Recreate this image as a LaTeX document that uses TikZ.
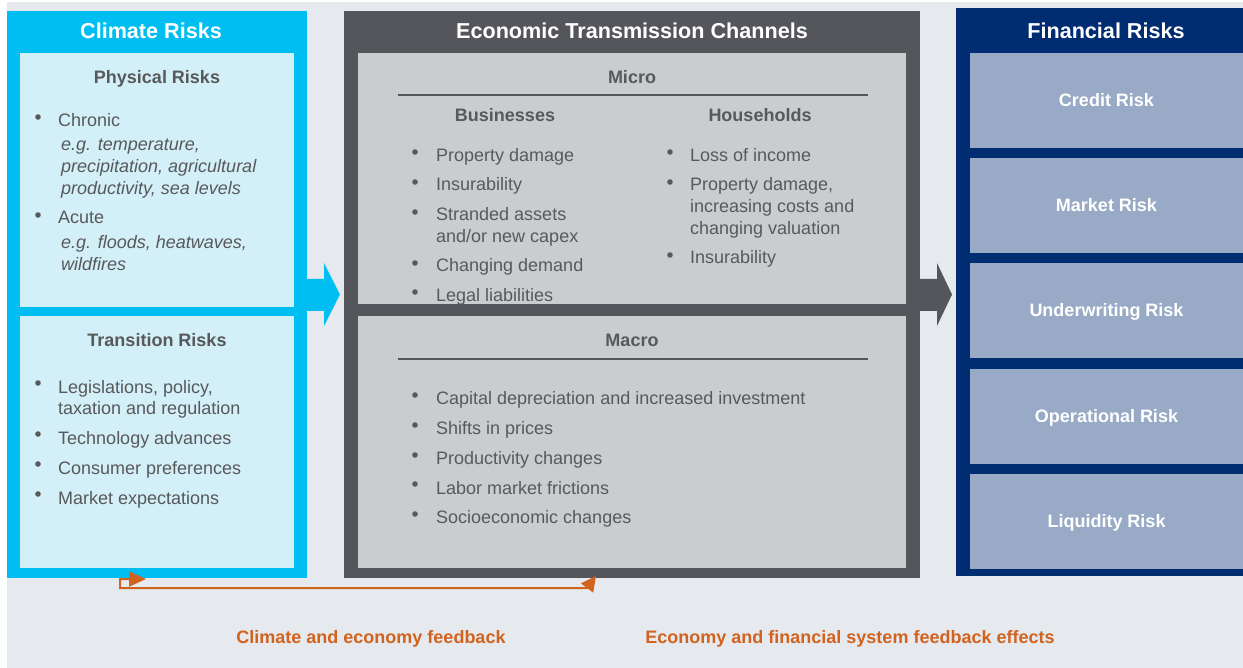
\documentclass[tikz,border=0pt]{standalone}
\usepackage{fontspec}
\setmainfont{Liberation Sans}
\usetikzlibrary{arrows.meta}
\definecolor{bgC}{HTML}{E6E9EE}
\definecolor{cyanC}{HTML}{00BEF2}
\definecolor{cyanL}{HTML}{D3EFF8}
\definecolor{grayD}{HTML}{54565B}
\definecolor{grayL}{HTML}{CBCCCE}
\definecolor{navyC}{HTML}{002D72}
\definecolor{navyL}{HTML}{99AAC6}
\definecolor{txt}{HTML}{58595B}
\definecolor{orangeC}{HTML}{D1631E}
\begin{document}
\begin{tikzpicture}[x=1pt,y=-1pt,
  box/.style={inner sep=0,outer sep=0,anchor=north west},
  title/.style={font=\fontsize{21.6}{25}\selectfont\bfseries, text=white, anchor=base, inner sep=0},
  head/.style={font=\fontsize{18}{22}\selectfont\bfseries, text=txt, anchor=base, inner sep=0},
  body/.style={font=\fontsize{18}{22}\selectfont, text=txt, anchor=base west, inner sep=0},
  ital/.style={font=\fontsize{18}{22}\selectfont\itshape, text=txt, anchor=base west, inner sep=0},
  dot/.style={circle, fill=txt, inner sep=0, minimum size=5.6},
  finbox/.style={fill=navyL, inner sep=0, outer sep=0, minimum width=273, minimum height=95,
    font=\fontsize{18}{22}\selectfont\bfseries, text=white, text height=12.9, text depth=0},
  fb/.style={font=\fontsize{18}{22}\selectfont\bfseries, text=orangeC, anchor=base, inner sep=0},
  rule/.style={draw=grayD, line width=2}]
\useasboundingbox (0,0) rectangle (1243,668);
\fill[white] (0,0) rectangle (1243,668);
\fill[bgC] (7,2) rectangle (1243,668);

% ---------- Climate Risks ----------
\node[box, fill=cyanC, minimum width=300, minimum height=567] (climate) at (7,11) {};
\node[box, fill=cyanL, minimum width=274, minimum height=254] (phys) at (20,53) {};
\node[box, fill=cyanL, minimum width=274, minimum height=252] (trans) at (20,316) {};
\node[title] (climateT) at (151,38.5) {Climate Risks};
\node[head] (physT) at (157,84) {Physical Risks};
\node[dot] (pb1) at (38,117) {};
\node[body] (pt1) at (58,127) {Chronic};
\node[ital] (pt2) at (61,151) {e.g. temperature,};
\node[ital] (pt3) at (61,173) {precipitation, agricultural};
\node[ital] (pt4) at (61,195) {productivity, sea levels};
\node[dot] (pb2) at (38,215) {};
\node[body] (pt5) at (58,224) {Acute};
\node[ital] (pt6) at (61,249) {e.g. floods, heatwaves,};
\node[ital] (pt7) at (61,271) {wildfires};

\node[head] (transT) at (157,347) {Transition Risks};
\node[dot] (tb1) at (38,383) {};
\node[body] (tt1) at (58,393) {Legislations, policy,};
\node[body] (tt2) at (58,414) {taxation and regulation};
\node[dot] (tb2) at (38,434) {};
\node[body] (tt3) at (58,444) {Technology advances};
\node[dot] (tb3) at (38,464) {};
\node[body] (tt4) at (58,474) {Consumer preferences};
\node[dot] (tb4) at (38,494) {};
\node[body] (tt5) at (58,504) {Market expectations};

% ---------- Economic Transmission Channels ----------
\node[box, fill=grayD, minimum width=576, minimum height=567] (econ) at (344,11) {};
\node[box, fill=grayL, minimum width=548, minimum height=251] (micro) at (358,53) {};
\node[box, fill=grayL, minimum width=548, minimum height=252] (macro) at (358,316) {};
\node[title] (econT) at (632,38.5) {Economic Transmission Channels};
\node[head] (microT) at (632,84) {Micro};
\draw[rule] (398,95) -- (868,95);
\node[head] (busT) at (505,122) {Businesses};
\node[head] (houT) at (760,122) {Households};

\node[dot] (bb1) at (415,152) {};
\node[body] (bt1) at (436,162) {Property damage};
\node[dot] (bb2) at (415,182) {};
\node[body] (bt2) at (436,191) {Insurability};
\node[dot] (bb3) at (415,212) {};
\node[body] (bt3) at (436,221) {Stranded assets};
\node[body] (bt4) at (436,243) {and/or new capex};
\node[dot] (bb4) at (415,263) {};
\node[body] (bt5) at (436,272) {Changing demand};
\node[dot] (bb5) at (415,292) {};
\node[body] (bt6) at (436,302) {Legal liabilities};

\node[dot] (hb1) at (670,152) {};
\node[body] (ht1) at (690,162) {Loss of income};
\node[dot] (hb2) at (670,182) {};
\node[body] (ht2) at (690,191) {Property damage,};
\node[body] (ht3) at (690,213) {increasing costs and};
\node[body] (ht4) at (690,235) {changing valuation};
\node[dot] (hb3) at (670,255) {};
\node[body] (ht5) at (690,264) {Insurability};

% band between micro and macro (covers clipped descenders)
\fill[grayD] (358,304) rectangle (906,316);

\node[head] (macroT) at (632,347) {Macro};
\draw[rule] (398,359) -- (868,359);
\node[dot] (mb1) at (415,395) {};
\node[body] (mt1) at (436,405) {Capital depreciation and increased investment};
\node[dot] (mb2) at (415,425) {};
\node[body] (mt2) at (436,434) {Shifts in prices};
\node[dot] (mb3) at (415,455) {};
\node[body] (mt3) at (436,464) {Productivity changes};
\node[dot] (mb4) at (415,484) {};
\node[body] (mt4) at (436,494) {Labor market frictions};
\node[dot] (mb5) at (415,514) {};
\node[body] (mt5) at (436,523) {Socioeconomic changes};

% ---------- Financial Risks ----------
\node[box, fill=navyC, minimum width=287, minimum height=568] (fin) at (956,8) {};
\node[title] (finT) at (1106,38.5) {Financial Risks};
\node[finbox] (credit) at (1106.5,100.5) {Credit Risk};
\node[finbox] (market) at (1106.5,205.5) {Market Risk};
\node[finbox] (under) at (1106.5,310.5) {Underwriting Risk};
\node[finbox] (oper) at (1106.5,416.5) {Operational Risk};
\node[finbox] (liq) at (1106.5,521.5) {Liquidity Risk};

% ---------- block arrows ----------
\fill[cyanC] (climate.east |- 0,279) -- (324,279) -- (324,263) -- (340,294.5)
  -- (324,326) -- (324,311) -- (climate.east |- 0,311) -- cycle;
\fill[grayD] (econ.east |- 0,279) -- (937,279) -- (937,263) -- (952,294.5)
  -- (937,326) -- (937,311) -- (econ.east |- 0,311) -- cycle;

% ---------- feedback ----------
\coordinate (fbA) at (146,579);
\coordinate (fbB) at (596,576);
\draw[orangeC, line width=2, {Triangle[length=15,width=15]}-{Triangle[length=17,width=15]}]
  (fbB) -- (587,588) -- (120,588) -- (120,579) -- (fbA);
\node[fb] (fb1) at (371,643) {Climate and economy feedback};
\node[fb] (fb2) at (850,643) {Economy and financial system feedback effects};
\end{tikzpicture}
\end{document}
